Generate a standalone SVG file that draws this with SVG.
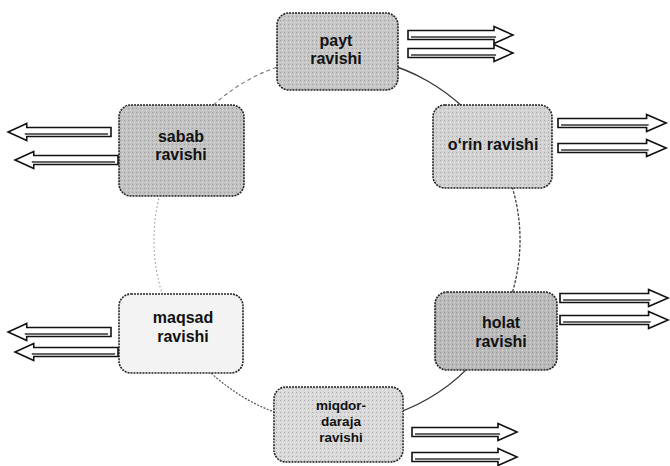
<svg xmlns="http://www.w3.org/2000/svg" xmlns:xlink="http://www.w3.org/1999/xlink" width="670" height="466" viewBox="0 0 670 466">
<style>
.box{stroke:#222;stroke-width:1.6;stroke-dasharray:2 1}
.lbl{font-family:"Liberation Sans",Arial,sans-serif;font-weight:bold;font-size:16px;fill:#111;text-anchor:middle}
.sm{font-size:13.5px}
.arc{fill:none}
</style>
<defs>
<pattern id="dots" width="4" height="4" patternUnits="userSpaceOnUse">
<rect x="0" y="0" width="1" height="1" fill="#555" opacity="0.35"/>
<rect x="2" y="2" width="1" height="1" fill="#fff" opacity="0.5"/>
</pattern>
<g id="arr">
<path d="M0,-4.5 L86,-4.5 L86,-8.5 L105,0 L86,8.5 L86,4.5 L0,4.5 Z" fill="#fff" stroke="#111" stroke-width="1.6" stroke-linejoin="miter"/>
<path d="M3,2 L88,2" stroke="#666" stroke-width="2.2"/>
</g>
</defs>
<rect width="670" height="466" fill="#fff"/>
<g id="connectors">
<path class="arc" d="M337,57 A183,183 0 0 1 493.9,145.7" stroke="#333" stroke-width="1.3"/>
<path class="arc" d="M493.9,145.7 A183,183 0 0 1 495.5,331.5" stroke="#444" stroke-width="1.3" stroke-dasharray="3 1.5"/>
<path class="arc" d="M495.5,331.5 A183,183 0 0 1 337,423" stroke="#333" stroke-width="1.3"/>
<path class="arc" d="M337,423 A183,183 0 0 1 178.5,331.5" stroke="#555" stroke-width="1.2" stroke-dasharray="2 1.5"/>
<path class="arc" d="M178.5,331.5 A183,183 0 0 1 178.5,148.5" stroke="#999" stroke-width="1.1" stroke-dasharray="1.5 2.5"/>
<path class="arc" d="M178.5,148.5 A183,183 0 0 1 337,57" stroke="#777" stroke-width="1.1" stroke-dasharray="4 3"/>
</g>
<g id="node-payt">
<rect class="box" x="277" y="13" width="121" height="77" rx="12" fill="#c6c6c6"/>
<rect x="277" y="13" width="121" height="77" rx="12" fill="url(#dots)"/>
<text class="lbl" x="336" y="46">payt</text>
<text class="lbl" x="336" y="64">ravishi</text>
<use xlink:href="#arr" transform="translate(408,35)"/>
<use xlink:href="#arr" transform="translate(408,53)"/>
</g>
<g id="node-orin">
<rect class="box" x="433" y="105" width="119" height="83" rx="12" fill="#d2d2d2"/>
<rect x="433" y="105" width="119" height="83" rx="12" fill="url(#dots)"/>
<text class="lbl" x="493" y="150">o‘rin ravishi</text>
<use xlink:href="#arr" transform="translate(558,123) scale(1.03,1)"/>
<use xlink:href="#arr" transform="translate(558,148) scale(1.03,1)"/>
</g>
<g id="node-sabab">
<rect class="box" x="119" y="105" width="125" height="91" rx="12" fill="#c2c2c2"/>
<rect x="119" y="105" width="125" height="91" rx="12" fill="url(#dots)"/>
<text class="lbl" x="181" y="142">sabab</text>
<text class="lbl" x="181" y="160">ravishi</text>
<use xlink:href="#arr" transform="translate(111,132) scale(-0.98,1)"/>
<use xlink:href="#arr" transform="translate(118,160) scale(-0.98,1)"/>
</g>
<g id="node-maqsad">
<rect class="box" x="119" y="294" width="124" height="79" rx="12" fill="#f3f3f3"/>
<text class="lbl" x="183" y="323">maqsad</text>
<text class="lbl" x="183" y="342">ravishi</text>
<use xlink:href="#arr" transform="translate(111,332) scale(-0.98,1)"/>
<use xlink:href="#arr" transform="translate(118,352) scale(-0.98,1)"/>
</g>
<g id="node-holat">
<rect class="box" x="435" y="292" width="122" height="78" rx="12" fill="#b9b9b9"/>
<rect x="435" y="292" width="122" height="78" rx="12" fill="url(#dots)"/>
<text class="lbl" x="501" y="328">holat</text>
<text class="lbl" x="501" y="347">ravishi</text>
<use xlink:href="#arr" transform="translate(560,298) scale(1.03,1)"/>
<use xlink:href="#arr" transform="translate(560,320) scale(1.03,1)"/>
</g>
<g id="node-miqdor">
<rect class="box" x="274" y="387" width="129" height="75" rx="12" fill="#d9d9d9"/>
<rect x="274" y="387" width="129" height="75" rx="12" fill="url(#dots)"/>
<text class="lbl sm" x="341" y="410">miqdor-</text>
<text class="lbl sm" x="341" y="426">daraja</text>
<text class="lbl sm" x="341" y="442">ravishi</text>
<use xlink:href="#arr" transform="translate(412,432)"/>
<use xlink:href="#arr" transform="translate(412,457)"/>
</g>
</svg>
